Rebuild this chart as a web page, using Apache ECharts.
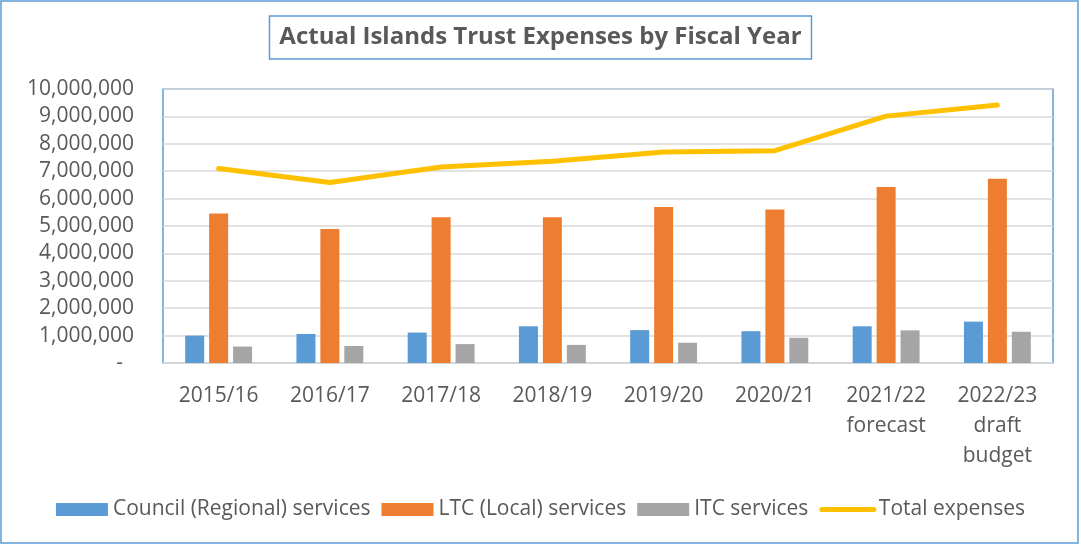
<!DOCTYPE html>
<html>
<head>
<meta charset="utf-8">
<script src="https://cdn.jsdelivr.net/npm/echarts@6/dist/echarts.min.js"></script>
<style>
    html, body { margin: 0; padding: 0; background: #fff; }
    #chart { width: 1081px; height: 545px; }
</style>
</head>
<body>
<div id="chart"></div>
<script>
    var fontFamily = 'Open Sans, Noto Sans, sans-serif';

    // data
    var categories = ['2015/16', '2016/17', '2017/18', '2018/19', '2019/20', '2020/21', '2021/22\nforecast', '2022/23\ndraft\nbudget'];
    var councilServices = [1000000, 1060000, 1110000, 1340000, 1200000, 1160000, 1340000, 1510000];
    var ltcServices = [5460000, 4890000, 5320000, 5320000, 5690000, 5600000, 6420000, 6720000];
    var itcServices = [600000, 620000, 690000, 660000, 740000, 920000, 1190000, 1140000];
    var totalExpenses = [7100000, 6590000, 7150000, 7360000, 7700000, 7750000, 9010000, 9420000];

    var chart = echarts.init(document.getElementById('chart'));

    var textColor = '#595959';
    var gridColor = '#d9d9d9';
    var frameColor = '#5b9bd5';

    function barSeries(name, data, color) {
        return {
            name: name,
            type: 'bar',
            data: data,
            barWidth: 19,
            barGap: '26%',
            itemStyle: { color: color },
            emphasis: { disabled: true }
        };
    }

    var option = {
        backgroundColor: '#fff',
        animation: false,
        textStyle: { fontFamily: fontFamily },
        graphic: [{
            type: 'rect',
            shape: { x: 1, y: 1, width: 1077, height: 542 },
            style: { fill: 'none', stroke: frameColor, lineWidth: 1.5 },
            silent: true
        }],
        title: {
            text: 'Actual Islands Trust Expenses by Fiscal Year',
            left: 'center',
            top: 16,
            padding: [6, 10, 6, 10],
            borderColor: frameColor,
            borderWidth: 1.5,
            textStyle: {
                color: textColor,
                fontFamily: fontFamily,
                fontSize: 24,
                fontWeight: 'bold',
                lineHeight: 31
            }
        },
        legend: {
            left: 'center',
            top: 494,
            itemWidth: 52,
            itemHeight: 13,
            itemGap: 11,
            selectedMode: false,
            textStyle: { color: textColor, fontFamily: fontFamily, fontSize: 21 },
            data: [
                { name: 'Council (Regional) services', icon: 'rect' },
                { name: 'LTC (Local) services', icon: 'rect' },
                { name: 'ITC services', icon: 'rect' },
                {
                    name: 'Total expenses',
                    itemStyle: { opacity: 0 },
                    lineStyle: { color: '#ffc000', width: 5, cap: 'round' }
                }
            ]
        },
        grid: {
            left: 163,
            right: 28,
            top: 89,
            bottom: 182,
            show: true,
            borderColor: frameColor,
            borderWidth: 1.5,
            containLabel: false
        },
        xAxis: {
            type: 'category',
            data: categories,
            axisTick: { show: false },
            axisLine: { lineStyle: { color: gridColor, width: 1.5 } },
            axisLabel: {
                color: textColor,
                fontFamily: fontFamily,
                fontSize: 21,
                lineHeight: 30,
                margin: 18,
                interval: 0
            }
        },
        yAxis: {
            type: 'value',
            min: 0,
            max: 10000000,
            interval: 1000000,
            axisLine: { show: false },
            axisTick: { show: false },
            splitLine: { lineStyle: { color: gridColor, width: 1.5 } },
            axisLabel: {
                color: textColor,
                fontFamily: fontFamily,
                fontSize: 21,
                margin: 29,
                formatter: function (v) {
                    if (v === 0) return '-  ';
                    return v.toString().replace(/\B(?=(\d{3})+(?!\d))/g, ',');
                }
            }
        },
        series: [
            barSeries('Council (Regional) services', councilServices, '#5b9bd5'),
            barSeries('LTC (Local) services', ltcServices, '#ed7d31'),
            barSeries('ITC services', itcServices, '#a5a5a5'),
            {
                name: 'Total expenses',
                type: 'line',
                data: totalExpenses,
                symbol: 'none',
                z: 5,
                itemStyle: { color: '#ffc000' },
                lineStyle: { color: '#ffc000', width: 5, cap: 'round', join: 'round' },
                emphasis: { disabled: true }
            }
        ]
    };

    chart.setOption(option);
</script>
</body>
</html>
